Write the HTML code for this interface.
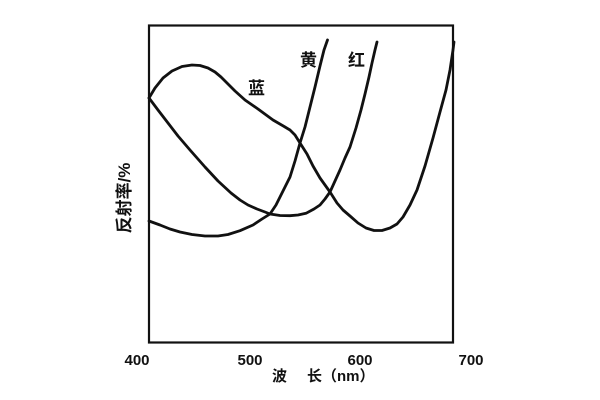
<!DOCTYPE html>
<html>
<head>
<meta charset="utf-8">
<style>
  html, body { margin:0; padding:0; background:#fff; }
  svg { display:block; }
  text { font-family: "Liberation Sans", "Noto Sans CJK SC", sans-serif; fill:#111; }
</style>
</head>
<body>
<svg width="600" height="400" viewBox="0 0 600 400" xmlns="http://www.w3.org/2000/svg">
  <rect x="0" y="0" width="600" height="400" fill="#fff"/>
  <!-- frame -->
  <rect x="149" y="25.5" width="304" height="317" fill="none" stroke="#111" stroke-width="2.2"/>

  <g fill="none" stroke="#111" stroke-width="2.8" stroke-linejoin="round" stroke-linecap="round">
    <!-- blue -->
    <polyline points="149,98 155,88 163,78 172,71 182,66.5 192,65 200,65.5 208,68 215,72 221,77 228,84 235,91 245,100 258,109 273,120 285,127 290,130 295,135 300,143 307,154 313,166 320,178 330,192 337,203 343,210 350,216 358,223 366,228 374,230.5 382,230.5 390,228 397,224 403,217 410,205 417,190 425,166 433,138 440,112 446,90 450,70 453,50 454,42"/>
    <!-- red -->
    <polyline points="149,98 158,110 168,123 178,136 190,150 205,167 218,181 231,193 240,200 248,205 257,209 265,212 270,214 280,215.5 290,215.7 298,215 306,213.3 314,209 320,205 325,199 330,192 335,181 340,170 345,158 350,147 356,128 361,110 365,94 369,77 372,63 375,50 377,42"/>
    <!-- yellow -->
    <polyline points="149,221 160,225 170,229 180,232 192,234.5 205,236 218,236 228,234.5 240,230.7 253,225 262,219 270,214 276,205 280,197 285,187 290,177 295,161 300,143 305,127 310,107 315,87 320,66 324,50 327.5,40"/>
  </g>

  <!-- curve labels -->
  <text x="248" y="94" font-size="17" font-weight="bold">蓝</text>
  <text x="300" y="66" font-size="17" font-weight="bold">黄</text>
  <text x="348" y="66" font-size="17" font-weight="bold">红</text>

  <!-- y-axis label -->
  <text transform="translate(130,198) rotate(-90)" text-anchor="middle" font-size="17" font-weight="bold">反射率/%</text>

  <!-- x tick labels -->
  <g font-size="15" font-weight="bold" text-anchor="middle">
    <text x="137" y="365">400</text>
    <text x="250" y="365">500</text>
    <text x="360" y="365">600</text>
    <text x="471" y="365">700</text>
  </g>

  <!-- x-axis label -->
  <text x="272" y="381" font-size="15" font-weight="bold">波</text>
  <text x="307" y="381" font-size="15" font-weight="bold">长（nm）</text>
</svg>
</body>
</html>
